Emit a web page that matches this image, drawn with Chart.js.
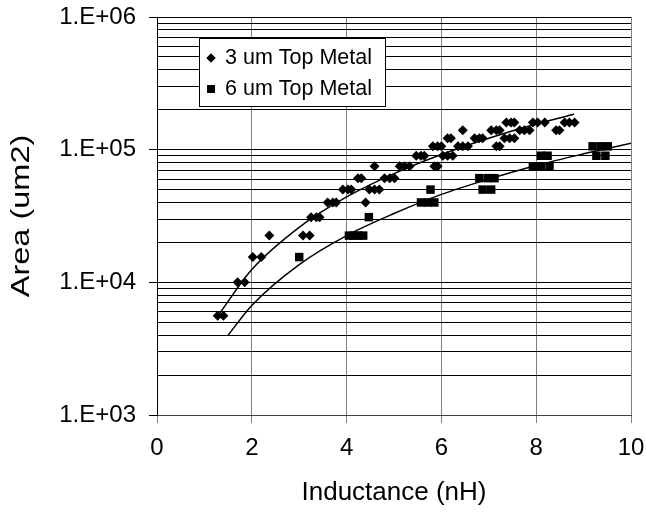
<!DOCTYPE html>
<html>
<head>
<meta charset="utf-8">
<script src="https://cdn.jsdelivr.net/npm/chart.js@4.4.1/dist/chart.umd.min.js"></script>
<style>
  body { margin: 0; background: #fff; }
  canvas { display: block; }
</style>
</head>
<body>
<canvas id="grafica" width="646" height="516"></canvas>
<script>
// Datos
const serie3Nombre = '3 um Top Metal';
const serie3X = [1.28, 1.40, 1.70, 1.85, 2.02, 2.20, 2.37, 3.08, 3.22, 3.25, 3.36, 3.43, 3.60, 3.71, 3.78,
  3.92, 4.03, 4.10, 4.24, 4.31, 4.40, 4.48, 4.59, 4.69, 4.59, 4.80, 4.91, 5.01, 5.12, 5.22, 5.33,
  5.47, 5.57, 5.64, 5.82, 5.92, 6.00, 5.85, 5.92, 6.03, 6.13, 6.24, 6.13, 6.20, 6.45, 6.35, 6.45,
  6.56, 6.70, 6.80, 6.87, 7.05, 7.16, 7.23, 7.16, 7.23, 7.33, 7.44, 7.54, 7.37, 7.47, 7.54, 7.65,
  7.75, 7.86, 7.93, 8.03, 8.18, 8.42, 8.49, 8.60, 8.70, 8.81];
const serie3Y = [5600, 5600, 10000, 10000, 15500, 15500, 22500, 22500, 22500, 31000, 31000, 31000, 40000, 40000, 40000,
  50000, 50000, 50000, 61000, 61000, 40000, 50000, 50000, 50000, 75000, 61000, 61000, 61000, 75000, 75000, 75000,
  90000, 90000, 90000, 106000, 106000, 106000, 75000, 75000, 90000, 90000, 90000, 122000, 122000, 140000, 106000, 106000,
  106000, 122000, 122000, 122000, 140000, 140000, 140000, 106000, 106000, 122000, 122000, 122000, 160000, 160000, 160000, 140000,
  140000, 140000, 160000, 160000, 160000, 140000, 140000, 160000, 160000, 160000];

const serie6Nombre = '6 um Top Metal';
const serie6X = [3.00, 4.05, 4.15, 4.25, 4.35, 4.47, 5.57, 5.71, 5.85, 5.77, 6.80, 6.98, 7.12, 6.87, 7.05,
  7.93, 8.10, 8.28, 8.10, 8.24, 9.19, 9.37, 9.51, 9.27, 9.46];
const serie6Y = [15500, 22500, 22500, 22500, 22500, 31000, 40000, 40000, 40000, 50000, 61000, 61000, 61000, 50000, 50000,
  75000, 75000, 75000, 90000, 90000, 106000, 106000, 106000, 90000, 90000];

const tendencia3X = [1.3, 2, 3, 4, 5, 6, 7, 8, 8.8];
const tendencia3Y = [5700, 12500, 26000, 44000, 66000, 92000, 122000, 156000, 185000];
const tendencia6X = [1.5, 2, 3, 4, 5, 6, 7, 8, 9, 10];
const tendencia6Y = [4000, 6700, 13600, 22500, 33000, 46000, 60000, 76000, 93000, 112000];

// Marcas de los ejes
const ticksX = [0, 2, 4, 6, 8, 10];
const decadasY = [1e3, 1e4, 1e5, 1e6];
const tituloX = 'Inductance (nH)';
const tituloY = 'Area (um2)';

const fuente = "'Liberation Sans', Arial, sans-serif";

function puntos(xs, ys) {
  return xs.map((x, i) => ({ x: x, y: ys[i] }));
}

// líneas horizontales 1..9 por década
const ticksY = [];
decadasY.forEach((d, i) => {
  if (i === decadasY.length - 1) { ticksY.push(d); return; }
  for (let k = 1; k <= 9; k++) ticksY.push(k * d);
});

function esDecada(v) {
  return decadasY.some(d => Math.abs(d - v) < 1e-6 * d);
}

// Leyenda dentro del área de gráfico + título del eje Y (un poco estirado como en el original)
const leyendaPlugin = {
  id: 'leyenda',
  afterDatasetsDraw(chart) {
    const ctx = chart.ctx;
    ctx.save();
    ctx.fillStyle = '#fff';
    ctx.fillRect(199.5, 38.5, 186, 68);
    ctx.strokeStyle = '#000';
    ctx.lineWidth = 1;
    ctx.strokeRect(199.5, 38.5, 186, 68);
    ctx.fillStyle = '#000';
    ctx.font = '21.5px ' + fuente;
    ctx.textBaseline = 'middle';
    ctx.fillText(serie3Nombre, 225, 58);
    ctx.fillText(serie6Nombre, 225, 89);
    Chart.helpers.drawPoint(ctx, { pointStyle: 'rectRot', radius: 4.5, borderWidth: 0 }, 211, 58);
    ctx.fill();
    Chart.helpers.drawPoint(ctx, { pointStyle: 'rect', radius: 5.5, borderWidth: 0 }, 211, 89);
    ctx.fill();
    ctx.restore();

    const area = chart.chartArea;
    ctx.save();
    ctx.translate(22, (area.top + area.bottom) / 2);
    ctx.rotate(-Math.PI / 2);
    ctx.scale(1.3, 1);
    ctx.font = '25px ' + fuente;
    ctx.fillStyle = '#000';
    ctx.textAlign = 'center';
    ctx.textBaseline = 'middle';
    ctx.fillText(tituloY, 0, 0);
    ctx.restore();
  }
};

const ctx = document.getElementById('grafica').getContext('2d');
const grafica = new Chart(ctx, {
  type: 'scatter',
  data: {
    datasets: [
      {
        label: serie3Nombre,
        data: puntos(serie3X, serie3Y),
        pointStyle: 'rectRot',
        pointRadius: 5,
        backgroundColor: '#000',
        borderColor: '#000',
        borderWidth: 0
      },
      {
        label: serie6Nombre,
        data: puntos(serie6X, serie6Y),
        pointStyle: 'rect',
        pointRadius: 6,
        backgroundColor: '#000',
        borderColor: '#000',
        borderWidth: 0
      },
      {
        label: 'tendencia3',
        data: puntos(tendencia3X, tendencia3Y),
        showLine: true,
        pointRadius: 0,
        borderColor: '#000',
        borderWidth: 1.5,
        cubicInterpolationMode: 'monotone'
      },
      {
        label: 'tendencia6',
        data: puntos(tendencia6X, tendencia6Y),
        showLine: true,
        pointRadius: 0,
        borderColor: '#000',
        borderWidth: 1.5,
        cubicInterpolationMode: 'monotone'
      }
    ]
  },
  options: {
    responsive: false,
    animation: false,
    layout: { padding: { top: 17, right: 15, left: 0, bottom: 0 } },
    plugins: {
      legend: { display: false },
      tooltip: { enabled: false }
    },
    scales: {
      x: {
        type: 'linear',
        min: 0,
        max: 10,
        afterBuildTicks: function(scale) {
          scale.ticks = ticksX.map(v => ({ value: v }));
        },
        afterFit: function(scale) {
          scale.height = 101;
          scale.paddingLeft = 0;
          scale.paddingRight = 0;
        },
        grid: {
          color: '#808080',
          lineWidth: 1,
          tickLength: 8,
          tickColor: '#808080'
        },
        border: { color: '#404040', width: 1 },
        ticks: {
          color: '#000',
          padding: 11,
          font: { family: fuente, size: 24 }
        },
        title: {
          display: true,
          text: tituloX,
          color: '#000',
          font: { family: fuente, size: 26 },
          padding: { top: 0, bottom: 8 }
        }
      },
      y: {
        type: 'logarithmic',
        min: 1e3,
        max: 1e6,
        afterBuildTicks: function(scale) {
          scale.ticks = ticksY.map(v => ({ value: v, major: esDecada(v) }));
        },
        afterFit: function(scale) {
          scale.width = 157;
          scale.paddingTop = 0;
          scale.paddingBottom = 0;
        },
        grid: {
          color: '#000',
          lineWidth: 1,
          tickLength: 8,
          tickColor: function(c) { return esDecada(c.tick.value) ? '#000' : 'rgba(0,0,0,0)'; }
        },
        border: { color: '#000', width: 1 },
        ticks: {
          color: '#000',
          padding: 13,
          autoSkip: false,
          font: { family: fuente, size: 24 },
          callback: function(v) {
            if (!esDecada(v)) return '';
            return '1.E+0' + Math.round(Math.log10(v));
          }
        },
        title: { display: false }
      }
    }
  },
  plugins: [leyendaPlugin]
});
</script>
</body>
</html>
